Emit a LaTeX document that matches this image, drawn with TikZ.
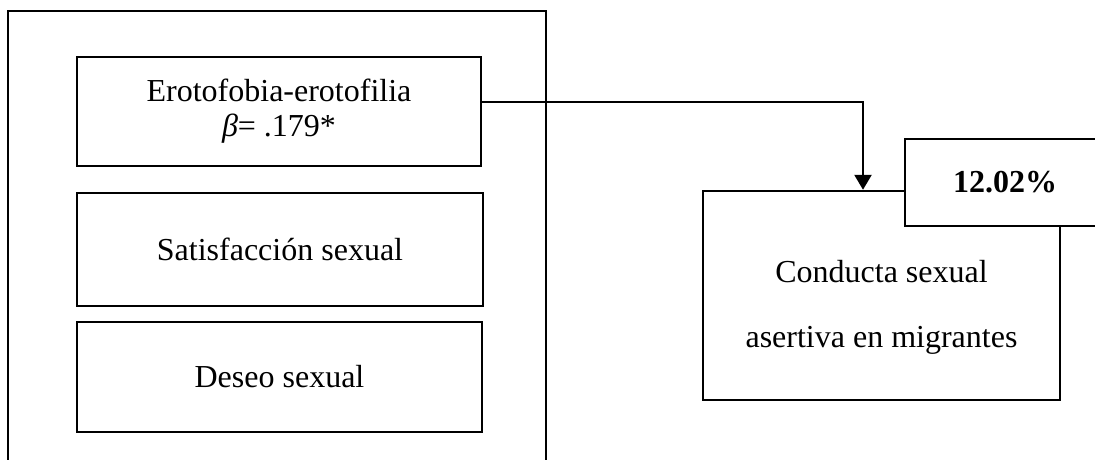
\documentclass[tikz,border=0pt]{standalone}
\usepackage{fontspec}
\setmainfont{Liberation Serif}
\usetikzlibrary{arrows.meta}
\begin{document}
\begin{tikzpicture}[x=1pt,y=-1pt,
  line width=2.5pt,
  box/.style={draw=black, fill=white, inner sep=0pt, align=center,
    font=\fontsize{32}{38}\selectfont},
  lbl/.style={inner sep=0pt, align=center, font=\fontsize{32}{38}\selectfont},
  conn/.style={-{Triangle[width=17pt,length=15pt]}, line width=2.5pt}]
\useasboundingbox (0,0) rectangle (1095,459);
% outer frame (open at the bottom)
\draw (8,470) -- (8,11) -- (546,11) -- (546,470);
% left boxes
\node[box, minimum width=404pt, minimum height=109pt] (A) at (279,111.5) {};
\node[lbl] (At) at (279,111.5) {Erotofobia-erotofilia\\[-3pt]\textit{β}= .179*};
\node[box, minimum width=406pt, minimum height=113pt] (B) at (280,249.5) {Satisfacción sexual};
\node[box, minimum width=405pt, minimum height=110pt] (C) at (279.5,377) {Deseo sexual};
% right boxes
\node[box, minimum width=357pt, minimum height=209pt] (D) at (881.5,295.5) {};
\node[lbl, font=\fontsize{32}{65}\selectfont] (Dt) at (881.5,307) {Conducta sexual\\asertiva en migrantes};
\node[box, minimum width=200pt, minimum height=87pt, font=\fontsize{32}{38}\selectfont\bfseries] (E) at (1005,182.5) {12.02\%};
% connector
\draw[conn] ([yshift=9.5pt]A.east) -| ([xshift=-18.5pt]D.north);
\end{tikzpicture}
\end{document}
